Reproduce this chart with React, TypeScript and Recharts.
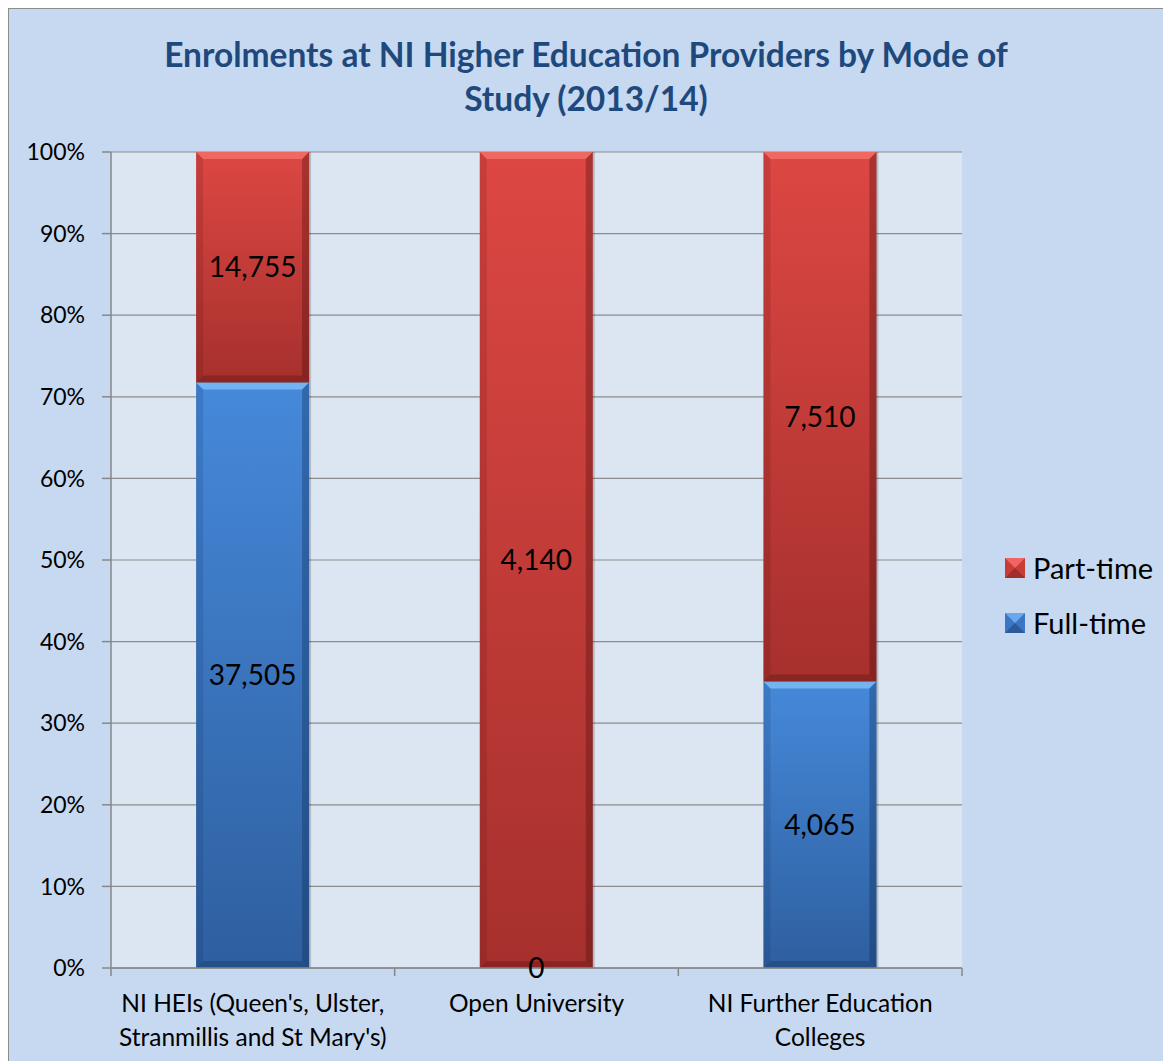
import React from "react";
import { BarChart, Bar, XAxis, YAxis, CartesianGrid, LabelList } from "recharts";

const categories = [
  "NI HEIs (Queen's, Ulster, Stranmillis and St Mary's)",
  "Open University",
  "NI Further Education Colleges",
];
const categoryLines = [
  ["NI HEIs (Queen's, Ulster,", "Stranmillis and St Mary's)"],
  ["Open University"],
  ["NI Further Education", "Colleges"],
];
const fullTime = [37505, 0, 4065];
const partTime = [14755, 4140, 7510];
const yTicks = [0, 0.1, 0.2, 0.3, 0.4, 0.5, 0.6, 0.7, 0.8, 0.9, 1];
const titleLines = ["Enrolments at NI Higher Education Providers by Mode of", "Study (2013/14)"];
const legendItems = ["Part-time", "Full-time"];

const data = categories.map((c, i) => ({ name: c, full: fullTime[i], part: partTime[i] }));

const CHART_W = 1162;
const CHART_H = 1052;
const MARGIN = { top: 143, right: 209, bottom: 0, left: 10 };
const Y_W = 92;
const X_H = 93;
const PLOT_W = CHART_W - MARGIN.left - MARGIN.right - Y_W;
const BAND = PLOT_W / categories.length;
const FONT = "Lato, 'Open Sans', sans-serif";
const AXIS = "#878787";

const fmt = (v: any) => Number(v).toLocaleString("en-GB");

const BevelBar = (props: any) => {
  const { x, y, width, height, gradId, light, dark } = props;
  if (!height || height <= 0) return null;
  const b = Math.min(7, height / 2);
  return (
    <g>
      <rect x={x + 2} y={y} width={width} height={height} fill="rgba(0,0,0,0.18)" />
      <rect x={x} y={y} width={width} height={height} fill={`url(#${gradId})`} />
      <polygon points={`${x},${y} ${x + width},${y} ${x + width - b},${y + b} ${x + b},${y + b}`} fill={light} opacity={0.85} />
      <polygon points={`${x},${y} ${x + b},${y + b} ${x + b},${y + height - b} ${x},${y + height}`} fill={dark} opacity={0.15} />
      <polygon points={`${x + width},${y} ${x + width - b},${y + b} ${x + width - b},${y + height - b} ${x + width},${y + height}`} fill={dark} opacity={0.35} />
      <polygon points={`${x},${y + height} ${x + b},${y + height - b} ${x + width - b},${y + height - b} ${x + width},${y + height}`} fill={dark} opacity={0.3} />
    </g>
  );
};

const XTick = (props: any) => {
  const { x, y, index } = props;
  const lines: string[] = categoryLines[index] || [];
  return (
    <g>
      <line x1={x - BAND / 2} y1={y} x2={x - BAND / 2} y2={y + 8} stroke={AXIS} strokeWidth={1.5} />
      {index === categories.length - 1 && (
        <line x1={x + BAND / 2} y1={y} x2={x + BAND / 2} y2={y + 8} stroke={AXIS} strokeWidth={1.5} />
      )}
      {lines.map((l, i) => (
        <text key={i} x={x} y={y + 34 + i * 34} textAnchor="middle" dominantBaseline="central" fontFamily={FONT} fontSize={24.5} fill="#000">
          {l}
        </text>
      ))}
    </g>
  );
};

const LegendBox = () => (
  <div style={{ position: "absolute", left: 996, top: 531, fontFamily: FONT, fontSize: 29, color: "#000" }}>
    {legendItems.map((label, i) => {
      const red = i === 0;
      return (
        <div key={i} style={{ display: "flex", alignItems: "center", height: 55 }}>
          <svg width={20} height={20} style={{ marginRight: 8 }}>
            <rect x={0} y={0} width={20} height={20} fill={red ? "#C93B37" : "#3A76C4"} />
            <polygon points="0,0 20,0 10,10" fill={red ? "#F06560" : "#6AA8EE"} />
            <polygon points="0,20 20,20 10,10" fill={red ? "#9E2E2B" : "#2A5A98"} />
          </svg>
          <span>{label}</span>
        </div>
      );
    })}
  </div>
);

export default function App() {
  return (
    <div
      style={{
        position: "relative",
        width: 1162,
        height: 1052,
        background: "#C6D9F1",
        borderLeft: "1px solid #8C8C8C",
        borderTop: "1px solid #8C8C8C",
        overflow: "hidden",
      }}
    >
      <div
        style={{
          position: "absolute",
          left: 0,
          top: 23,
          width: 1154,
          textAlign: "center",
          fontFamily: FONT,
          fontWeight: 700,
          fontSize: 33.5,
          lineHeight: "44px",
          color: "#1F497D",
        }}
      >
        {titleLines.map((t, i) => (
          <div key={i}>{t}</div>
        ))}
      </div>
      <BarChart
        width={CHART_W}
        height={CHART_H}
        data={data}
        margin={MARGIN}
        stackOffset="expand"
        barCategoryGap="30%"
      >
        <defs>
          <linearGradient id="gRed" x1="0" y1="0" x2="0" y2="1">
            <stop offset="0%" stopColor="#DD4743" />
            <stop offset="100%" stopColor="#A6302D" />
          </linearGradient>
          <linearGradient id="gBlue" x1="0" y1="0" x2="0" y2="1">
            <stop offset="0%" stopColor="#4689DA" />
            <stop offset="100%" stopColor="#2E5F9F" />
          </linearGradient>
        </defs>
        <CartesianGrid vertical={false} horizontal={true} fill="#DCE6F2" stroke="#8C8C8C" strokeWidth={1.2} />
        <XAxis
          dataKey="name"
          height={X_H}
          interval={0}
          tickLine={false}
          tickSize={0}
          tickMargin={0}
          axisLine={{ stroke: AXIS, strokeWidth: 1.5 }}
          tick={<XTick />}
        />
        <YAxis
          width={Y_W}
          domain={[0, 1]}
          ticks={yTicks}
          tickFormatter={(v: number) => `${Math.round(v * 100)}%`}
          axisLine={{ stroke: AXIS, strokeWidth: 1.5 }}
          tickLine={{ stroke: AXIS, strokeWidth: 1.5 }}
          tickSize={9}
          tickMargin={17}
          tick={{ fontFamily: FONT, fontSize: 23, fill: "#000" }}
        />
        <Bar
          dataKey="full"
          name="Full-time"
          stackId="a"
          isAnimationActive={false}
          shape={(p: any) => <BevelBar {...p} gradId="gBlue" light="#7DBBF5" dark="#0E2A55" />}
        >
          <LabelList dataKey="full" position="center" formatter={fmt} fill="#000" fontSize={28} fontFamily={FONT} />
        </Bar>
        <Bar
          dataKey="part"
          name="Part-time"
          stackId="a"
          isAnimationActive={false}
          shape={(p: any) => <BevelBar {...p} gradId="gRed" light="#F46E69" dark="#4A0E0C" />}
        >
          <LabelList dataKey="part" position="center" formatter={fmt} fill="#000" fontSize={28} fontFamily={FONT} />
        </Bar>
      </BarChart>
      <LegendBox />
    </div>
  );
}
